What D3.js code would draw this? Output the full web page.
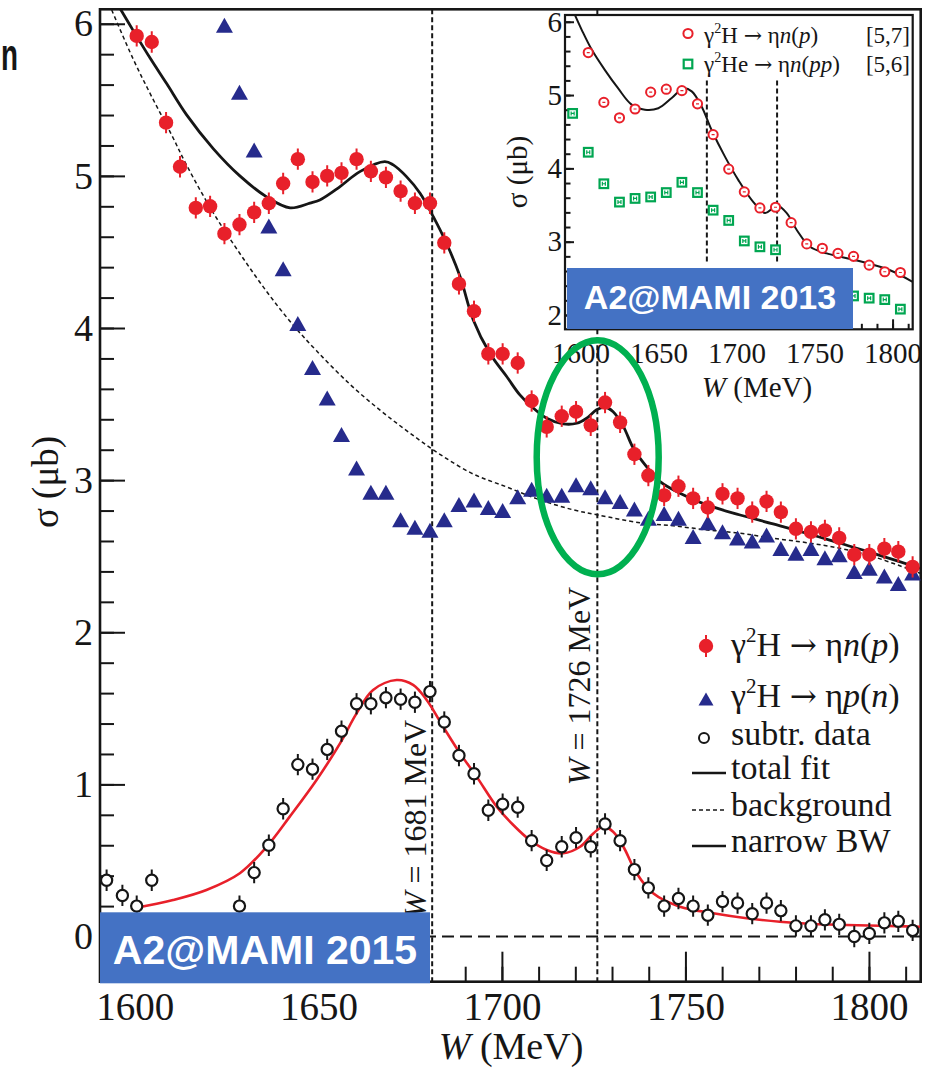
<!DOCTYPE html>
<html>
<head>
<meta charset="utf-8">
<script src="https://cdn.jsdelivr.net/npm/d3@7"></script>
<style>
  html, body { margin: 0; padding: 0; background: #fff; }
  svg { display: block; }
</style>
</head>
<body>
<svg id="chart" width="931" height="1070"></svg>
<script>
// ---------- γ²H → ηn(p), A2@MAMI 2015 (filled red circles) ----------
const npW = [1600.5,1604.6,1608.5,1612.3,1616.6,1620.5,1624.4,1628.5,1632.5,1636.5,1640.4,1644.4,1648.4,1652.4,1656.3,1660.4,1664.3,1668.4,1672.4,1676.3,1680.4,1684.3,1688.3,1692.4,1696.3,1700.2,1704.3,1708.1,1712.2,1716.3,1720.2,1724.2,1728.1,1732.2,1736.1,1739.9,1744.2,1748.1,1752.1,1756.1,1760.1,1764.2,1768.2,1772.1,1776.0,1780.1,1784.2,1788.0,1791.9,1796.0,1800.1,1804.2,1808.0,1811.9];
const npSigma = [5.92,5.88,5.35,5.06,4.79,4.80,4.62,4.68,4.76,4.82,4.95,5.11,4.96,5.00,5.02,5.11,5.03,4.99,4.90,4.82,4.82,4.56,4.29,4.11,3.83,3.83,3.77,3.52,3.35,3.42,3.45,3.36,3.51,3.38,3.17,3.03,2.90,2.96,2.88,2.82,2.91,2.88,2.79,2.86,2.79,2.68,2.66,2.67,2.62,2.51,2.51,2.55,2.53,2.43];
const npErr = 0.07;

// ---------- γ²H → ηp(n) (blue triangles) ----------
const pnW = [1624.4,1628.5,1632.5,1636.5,1640.4,1644.4,1648.4,1652.4,1656.3,1660.4,1664.3,1668.4,1672.4,1676.3,1680.4,1684.3,1688.3,1692.4,1696.3,1700.2,1704.3,1708.1,1712.2,1716.3,1720.2,1724.2,1728.1,1732.2,1736.1,1739.9,1744.2,1748.1,1752.1,1756.1,1760.1,1764.2,1768.2,1772.1,1776.0,1780.1,1784.2,1788.0,1791.9,1796.0,1800.1,1804.2,1808.0,1811.9];
const pnSigma = [5.99,5.55,5.17,4.67,4.39,4.03,3.74,3.54,3.30,3.08,2.92,2.92,2.74,2.69,2.67,2.74,2.84,2.87,2.82,2.80,2.89,2.94,2.90,2.90,2.97,2.95,2.89,2.86,2.81,2.75,2.78,2.75,2.63,2.72,2.66,2.62,2.60,2.64,2.55,2.52,2.55,2.49,2.51,2.40,2.42,2.37,2.32,2.39];

// ---------- background-subtracted ηn(p) data (open circles) ----------
const subW = [1592.3,1596.6,1600.5,1604.6,1628.5,1632.5,1636.5,1640.4,1644.4,1648.4,1652.4,1656.3,1660.4,1664.3,1668.4,1672.4,1676.3,1680.4,1684.3,1688.3,1692.4,1696.3,1700.2,1704.3,1708.1,1712.2,1716.3,1720.2,1724.2,1728.1,1732.2,1736.1,1739.9,1744.2,1748.1,1752.1,1756.1,1760.1,1764.2,1768.2,1772.1,1776.0,1780.1,1784.2,1788.0,1791.9,1796.0,1800.1,1804.2,1808.0,1811.9];
const subSigma = [0.37,0.27,0.20,0.37,0.20,0.42,0.60,0.84,1.13,1.10,1.23,1.35,1.53,1.53,1.57,1.56,1.54,1.61,1.41,1.19,1.07,0.83,0.87,0.85,0.63,0.50,0.59,0.65,0.59,0.74,0.63,0.44,0.32,0.20,0.25,0.20,0.14,0.23,0.22,0.15,0.22,0.17,0.07,0.07,0.11,0.08,0.00,0.02,0.09,0.10,0.04];
const subErr = 0.07;

// ---------- fitted curves ----------
const totalFitW = [1596.1,1599.6,1604.1,1608.7,1614.1,1621.4,1628.6,1635.9,1642.3,1647.7,1650.4,1655.9,1661.3,1668.1,1670.4,1674.0,1677.7,1681.3,1684.9,1688.6,1692.2,1696.7,1701.3,1704.9,1708.1,1712.2,1716.7,1720.4,1723.1,1725.8,1728.1,1730.3,1733.1,1735.8,1739.4,1743.1,1748.5,1755.8,1764.9,1773.9,1783.0,1792.1,1801.2,1813.9];
const totalFit = [6.095,5.953,5.776,5.605,5.401,5.178,5.000,4.862,4.790,4.821,4.842,4.930,5.028,5.094,5.072,4.995,4.886,4.732,4.557,4.338,4.053,3.834,3.681,3.560,3.483,3.407,3.370,3.374,3.407,3.462,3.479,3.450,3.352,3.210,3.089,2.990,2.914,2.837,2.771,2.712,2.651,2.585,2.519,2.421];

const backgroundW = [1593.7,1599.5,1604.6,1610.0,1614.1,1621.3,1628.6,1635.9,1643.1,1649.5,1658.6,1666.8,1674.9,1683.1,1692.2,1701.3,1710.4,1719.4,1726.2,1737.6,1746.7,1755.8,1764.9,1773.9,1783.0,1792.1,1801.2,1813.9];
const background = [6.09,5.77,5.52,5.27,5.07,4.76,4.49,4.24,4.02,3.85,3.63,3.46,3.31,3.17,3.04,2.955,2.87,2.805,2.771,2.72,2.70,2.673,2.651,2.618,2.589,2.552,2.497,2.388];

const narrowBWW = [1599.5,1610.4,1619.5,1628.6,1635.9,1642.2,1649.5,1655.9,1660.4,1664.9,1671.3,1675.8,1679.5,1684.0,1688.6,1693.1,1698.6,1703.1,1707.6,1712.2,1716.7,1721.3,1724.9,1727.6,1730.3,1733.1,1736.7,1741.2,1748.5,1757.6,1766.7,1775.7,1784.8,1793.9,1803.0,1813.9];
const narrowBW = [0.185,0.240,0.306,0.416,0.590,0.788,1.029,1.270,1.467,1.621,1.686,1.654,1.555,1.379,1.204,1.051,0.853,0.733,0.634,0.569,0.547,0.590,0.678,0.722,0.689,0.590,0.416,0.284,0.196,0.153,0.120,0.097,0.082,0.076,0.071,0.064];

const resonanceW = [1681, 1726];

// ---------- inset: A2@MAMI 2013 ----------
const insetNpW = [1605,1615,1625,1635,1645,1655,1665,1675,1685,1695,1705,1715,1725,1735,1745,1755,1765,1775,1785,1795,1805];
const insetNp = [5.58,4.90,4.69,4.81,5.04,5.08,5.06,4.88,4.46,3.99,3.68,3.46,3.47,3.26,2.97,2.91,2.84,2.80,2.68,2.59,2.58];
const insetHeW = [1595,1605,1615,1625,1635,1645,1655,1665,1675,1685,1695,1705,1715,1725,1775,1785,1795,1805];
const insetHe = [4.75,4.22,3.79,3.54,3.59,3.61,3.67,3.81,3.67,3.43,3.29,3.01,2.93,2.89,2.26,2.23,2.21,2.08];
const insetFitW = [1596.5,1600.8,1607.2,1615.7,1624.2,1632.8,1641.3,1649.9,1658.5,1665.9,1671.3,1677.7,1684.1,1692.6,1701.2,1710.8,1718.3,1722.8,1726.3,1732.2,1738.6,1747.1,1757.8,1777.9,1798.4,1812.9];
const insetFit = [6.09,5.89,5.62,5.34,5.09,4.87,4.80,4.82,4.96,5.09,5.05,4.84,4.52,4.16,3.84,3.54,3.39,3.45,3.49,3.39,3.16,2.93,2.84,2.74,2.61,2.45];

// ---------- axis ticks ----------
const xTickLabels = [1600, 1650, 1700, 1750, 1800];
const yTickLabels = [0, 1, 2, 3, 4, 5, 6];
const insetYTickLabels = [2, 3, 4, 5, 6];

const SERIF = "'Liberation Serif', 'Times New Roman', serif";
const SANS = "'Liberation Sans', Arial, sans-serif";
const ARROW_FONT = "'DejaVu Serif', 'DejaVu Sans', serif";
const INK = '#161616';
const RED = '#E8202A';
const NAVY = '#262B8C';
const GREEN = '#00A651';
const BLUE_BOX = '#4472C4';

const svg = d3.select('#chart');
const zip = (ws, vs) => ws.map((w, i) => ({ w, v: vs[i] }));

// ---------- main panel ----------
const x = d3.scaleLinear().domain([1590.5, 1814.1]).range([100, 920.7]);
const y = d3.scaleLinear().domain([-0.297, 6.095]).range([981.7, 9.3]);
const [X0, X1] = x.range();
const [Y0, Y1] = y.range();

svg.append('defs').append('clipPath').attr('id', 'mainClip')
  .append('rect').attr('x', X0).attr('y', Y1).attr('width', X1 - X0).attr('height', Y0 - Y1);
svg.select('defs').append('clipPath').attr('id', 'insetClip')
  .append('rect').attr('x', 565).attr('y', 15).attr('width', 347.7).attr('height', 314.3);

function styleAxis(g, fs) {
  g.attr('font-family', SERIF).attr('font-size', fs);
  g.selectAll('.domain').remove();
  g.selectAll('.tick line').attr('stroke', INK).attr('stroke-width', 2);
  g.selectAll('.tick text').attr('fill', INK);
}

// minor + major ticks on the bottom axis
svg.append('g').attr('transform', `translate(0,${Y0})`)
  .call(d3.axisBottom(x).tickValues(d3.range(1600, 1811, 10)).tickSize(-15).tickFormat(''))
  .call(g => styleAxis(g, 39));
svg.append('g').attr('transform', `translate(0,${Y0})`)
  .call(d3.axisBottom(x).tickValues(xTickLabels).tickSizeInner(-30).tickSizeOuter(0).tickPadding(11).tickFormat(d3.format('d')))
  .call(g => styleAxis(g, 39));
// minor + major ticks on the left axis
svg.append('g').attr('transform', `translate(${X0},0)`)
  .call(d3.axisLeft(y).tickValues(d3.range(0, 6.01, 0.2)).tickSize(-14).tickFormat(''))
  .call(g => styleAxis(g, 38));
svg.append('g').attr('transform', `translate(${X0},0)`)
  .call(d3.axisLeft(y).tickValues(yTickLabels).tickSizeInner(-25).tickSizeOuter(0).tickPadding(7).tickFormat(d3.format('d')))
  .call(g => styleAxis(g, 38));

// frame
svg.append('rect').attr('x', X0).attr('y', Y1).attr('width', X1 - X0).attr('height', Y0 - Y1)
  .attr('fill', 'none').attr('stroke', INK).attr('stroke-width', 2.6);

const plot = svg.append('g').attr('clip-path', 'url(#mainClip)');

// zero line
plot.append('line').attr('x1', X0).attr('x2', X1).attr('y1', y(0)).attr('y2', y(0))
  .attr('stroke', INK).attr('stroke-width', 2).attr('stroke-dasharray', '12,6');

// resonance markers
plot.selectAll('line.res').data(resonanceW).join('line').attr('class', 'res')
  .attr('x1', d => x(d)).attr('x2', d => x(d)).attr('y1', Y1).attr('y2', Y0)
  .attr('stroke', INK).attr('stroke-width', 2).attr('stroke-dasharray', '5,3');

const curve = (sx, sy) => d3.line().x(d => sx(d.w)).y(d => sy(d.v)).curve(d3.curveCatmullRom.alpha(0.5));

plot.append('path').datum(zip(backgroundW, background)).attr('d', curve(x, y))
  .attr('fill', 'none').attr('stroke', INK).attr('stroke-width', 1.5).attr('stroke-dasharray', '4,3');
plot.append('path').datum(zip(totalFitW, totalFit)).attr('d', curve(x, y))
  .attr('fill', 'none').attr('stroke', INK).attr('stroke-width', 2.8);
plot.append('path').datum(zip(narrowBWW, narrowBW)).attr('d', curve(x, y))
  .attr('fill', 'none').attr('stroke', RED).attr('stroke-width', 2.6);

// blue triangles
const triPath = (w, h) => `M0,${-h / 2}L${w / 2},${h / 2}L${-w / 2},${h / 2}Z`;
plot.selectAll('path.pn').data(zip(pnW, pnSigma)).join('path').attr('class', 'pn')
  .attr('transform', d => `translate(${x(d.w)},${y(d.v)})`)
  .attr('d', triPath(17, 15)).attr('fill', NAVY);

// red filled circles with error bars
const npPts = zip(npW, npSigma);
plot.selectAll('line.nperr').data(npPts).join('line').attr('class', 'nperr')
  .attr('x1', d => x(d.w)).attr('x2', d => x(d.w))
  .attr('y1', d => y(d.v + npErr)).attr('y2', d => y(d.v - npErr))
  .attr('stroke', RED).attr('stroke-width', 2);
plot.selectAll('circle.np').data(npPts).join('circle').attr('class', 'np')
  .attr('cx', d => x(d.w)).attr('cy', d => y(d.v)).attr('r', 7.2).attr('fill', RED);

// open circles (subtracted data)
const subPts = zip(subW, subSigma);
plot.selectAll('line.suberr').data(subPts).join('line').attr('class', 'suberr')
  .attr('x1', d => x(d.w)).attr('x2', d => x(d.w))
  .attr('y1', d => y(d.v + subErr)).attr('y2', d => y(d.v - subErr))
  .attr('stroke', INK).attr('stroke-width', 2);
plot.selectAll('circle.sub').data(subPts).join('circle').attr('class', 'sub')
  .attr('cx', d => x(d.w)).attr('cy', d => y(d.v)).attr('r', 5.6)
  .attr('fill', '#fff').attr('stroke', INK).attr('stroke-width', 2.2);

// rotated resonance labels
const resLabelPos = [{ w: 1681, cx: 426, cy: 819 }, { w: 1726, cx: 590, cy: 686 }];
resLabelPos.forEach(p => {
  const t = svg.append('text').attr('transform', `translate(${p.cx},${p.cy}) rotate(-90)`)
    .attr('text-anchor', 'middle').attr('font-family', SERIF).attr('font-size', 32).attr('fill', INK);
  t.append('tspan').attr('font-style', 'italic').text('W');
  t.append('tspan').text(` = ${p.w} MeV`);
});

// axis titles
const xt = svg.append('text').attr('x', 511).attr('y', 1059).attr('text-anchor', 'middle')
  .attr('font-family', SERIF).attr('font-size', 38).attr('fill', INK);
xt.append('tspan').attr('font-style', 'italic').text('W');
xt.append('tspan').text(' (MeV)');
svg.append('text').attr('transform', 'translate(58,482) rotate(-90)').attr('text-anchor', 'middle')
  .attr('font-family', SERIF).attr('font-size', 37).attr('fill', INK).text('σ  (μb)');

// reaction label: γ²X → η a(b)
function reaction(t, fs, target, meson, nucl, spect) {
  t.append('tspan').text('γ');
  t.append('tspan').attr('dy', -0.42 * fs).attr('font-size', fs * 0.62).text('2');
  t.append('tspan').attr('dy', 0.42 * fs).text(`${target} `);
  t.append('tspan').attr('font-family', ARROW_FONT).attr('font-size', fs * 0.95).text('→');
  t.append('tspan').text(` ${meson}`);
  t.append('tspan').attr('font-style', 'italic').text(nucl);
  t.append('tspan').text('(');
  t.append('tspan').attr('font-style', 'italic').text(spect);
  t.append('tspan').text(')');
}

// ---------- main legend ----------
const lg = svg.append('g').attr('font-family', SERIF).attr('font-size', 34).attr('fill', INK);
lg.append('line').attr('x1', 706).attr('x2', 706).attr('y1', 635).attr('y2', 657).attr('stroke', RED).attr('stroke-width', 2);
lg.append('circle').attr('cx', 706).attr('cy', 646).attr('r', 7.2).attr('fill', RED);
reaction(lg.append('text').attr('x', 731).attr('y', 656), 34, 'H', 'η', 'n', 'p');
lg.append('path').attr('transform', 'translate(706,699)').attr('d', triPath(15, 13)).attr('fill', NAVY);
reaction(lg.append('text').attr('x', 731).attr('y', 707), 34, 'H', 'η', 'p', 'n');
lg.append('circle').attr('cx', 704).attr('cy', 738).attr('r', 5).attr('fill', '#fff').attr('stroke', INK).attr('stroke-width', 2);
lg.append('text').attr('x', 731).attr('y', 745).text('subtr. data');
const legendLines = [
  { label: 'total fit', yy: 773, dash: null, w: 2.6 },
  { label: 'background', yy: 810, dash: '4,3', w: 1.6 },
  { label: 'narrow BW', yy: 846, dash: null, w: 2.6 }
];
legendLines.forEach(e => {
  lg.append('line').attr('x1', 692).attr('x2', 726).attr('y1', e.yy).attr('y2', e.yy)
    .attr('stroke', INK).attr('stroke-width', e.w).attr('stroke-dasharray', e.dash);
  lg.append('text').attr('x', 731).attr('y', e.yy + 5.5).text(e.label);
});

// ---------- inset panel ----------
const xi = d3.scaleLinear().domain([1590.1, 1812.9]).range([565, 912.7]);
const yi = d3.scaleLinear().domain([1.805, 6.092]).range([329.3, 15]);
const [XI0, XI1] = xi.range();
const [YI0, YI1] = yi.range();

svg.append('rect').attr('x', XI0).attr('y', YI1).attr('width', XI1 - XI0).attr('height', YI0 - YI1).attr('fill', '#fff');

svg.append('g').attr('transform', `translate(${XI0},0)`)
  .call(d3.axisLeft(yi).tickValues(d3.range(2, 6.01, 0.2)).tickSize(-5.5).tickFormat(''))
  .call(g => styleAxis(g, 29));
svg.append('g').attr('transform', `translate(${XI0},0)`)
  .call(d3.axisLeft(yi).tickValues(insetYTickLabels).tickSizeInner(-9).tickSizeOuter(0).tickPadding(3).tickFormat(d3.format('d')))
  .call(g => styleAxis(g, 29));
svg.append('g').attr('transform', `translate(0,${YI0})`)
  .call(d3.axisBottom(xi).tickValues(d3.range(1600, 1811, 10)).tickSize(-5.5).tickFormat(''))
  .call(g => styleAxis(g, 29));
svg.append('g').attr('transform', `translate(0,${YI0})`)
  .call(d3.axisBottom(xi).tickValues(xTickLabels).tickSizeInner(-10).tickSizeOuter(0).tickPadding(13).tickFormat(d3.format('d')))
  .call(g => styleAxis(g, 29));
svg.append('rect').attr('x', XI0).attr('y', YI1).attr('width', XI1 - XI0).attr('height', YI0 - YI1)
  .attr('fill', 'none').attr('stroke', INK).attr('stroke-width', 2.2);

const inset = svg.append('g').attr('clip-path', 'url(#insetClip)');
inset.selectAll('line.ires').data(resonanceW).join('line').attr('class', 'ires')
  .attr('x1', d => xi(d)).attr('x2', d => xi(d)).attr('y1', yi(5.2)).attr('y2', yi(2.72))
  .attr('stroke', INK).attr('stroke-width', 2).attr('stroke-dasharray', '5,3');
inset.append('path').datum(zip(insetFitW, insetFit)).attr('d', curve(xi, yi))
  .attr('fill', 'none').attr('stroke', INK).attr('stroke-width', 2);

const hePts = zip(insetHeW, insetHe);
inset.selectAll('rect.he').data(hePts).join('rect').attr('class', 'he')
  .attr('x', d => xi(d.w) - 4.3).attr('y', d => yi(d.v) - 4.3).attr('width', 8.6).attr('height', 8.6)
  .attr('fill', '#fff').attr('stroke', GREEN).attr('stroke-width', 2.2);
inset.selectAll('path.heerr').data(hePts).join('path').attr('class', 'heerr')
  .attr('d', d => { const cx = xi(d.w), cy = yi(d.v); return `M${cx - 1.5},${cy - 2}V${cy + 2}M${cx + 1.5},${cy - 2}V${cy + 2}M${cx - 1.5},${cy}H${cx + 1.5}`; })
  .attr('stroke', GREEN).attr('stroke-width', 1.2).attr('fill', 'none');

const inpPts = zip(insetNpW, insetNp);
inset.selectAll('circle.inp').data(inpPts).join('circle').attr('class', 'inp')
  .attr('cx', d => xi(d.w)).attr('cy', d => yi(d.v)).attr('r', 4.6)
  .attr('fill', '#fff').attr('stroke', RED).attr('stroke-width', 2);
inset.selectAll('line.inperr').data(inpPts).join('line').attr('class', 'inperr')
  .attr('x1', d => xi(d.w) - 1.5).attr('x2', d => xi(d.w) + 1.5).attr('y1', d => yi(d.v)).attr('y2', d => yi(d.v))
  .attr('stroke', RED).attr('stroke-width', 1.2);

// inset legend
const il = svg.append('g').attr('font-family', SERIF).attr('font-size', 23).attr('fill', INK);
il.append('circle').attr('cx', 688).attr('cy', 33.5).attr('r', 4.6).attr('fill', '#fff').attr('stroke', RED).attr('stroke-width', 2);
reaction(il.append('text').attr('x', 704).attr('y', 43), 23, 'H', 'η', 'n', 'p');
il.append('text').attr('x', 910).attr('y', 43).attr('text-anchor', 'end').text('[5,7]');
il.append('rect').attr('x', 683.7).attr('y', 59.7).attr('width', 8.6).attr('height', 8.6)
  .attr('fill', '#fff').attr('stroke', GREEN).attr('stroke-width', 2.2);
reaction(il.append('text').attr('x', 704).attr('y', 72), 23, 'He', 'η', 'n', 'pp');
il.append('text').attr('x', 910).attr('y', 72).attr('text-anchor', 'end').text('[5,6]');

// inset axis titles
const ixt = svg.append('text').attr('x', 757).attr('y', 397).attr('text-anchor', 'middle')
  .attr('font-family', SERIF).attr('font-size', 29).attr('fill', INK);
ixt.append('tspan').attr('font-style', 'italic').text('W');
ixt.append('tspan').text(' (MeV)');
svg.append('text').attr('transform', 'translate(527,172) rotate(-90)').attr('text-anchor', 'middle')
  .attr('font-family', SERIF).attr('font-size', 29).attr('fill', INK).text('σ  (μb)');

// ---------- experiment tags ----------
const tags = [
  { label: 'A2@MAMI 2013', x0: 567, y0: 268, w: 286, h: 61, fs: 34, base: 309 },
  { label: 'A2@MAMI 2015', x0: 100, y0: 912.3, w: 330, h: 71, fs: 41, base: 963.5 }
];
tags.forEach(t => {
  svg.append('rect').attr('x', t.x0).attr('y', t.y0).attr('width', t.w).attr('height', t.h).attr('fill', BLUE_BOX);
  svg.append('text').attr('x', t.x0 + t.w / 2).attr('y', t.base).attr('text-anchor', 'middle')
    .attr('font-family', SANS).attr('font-weight', 'bold').attr('font-size', t.fs).attr('fill', '#fff').text(t.label);
});

// highlight around the narrow structure at W = 1726 MeV
svg.append('ellipse').attr('cx', x(1726.1)).attr('cy', y(3.15)).attr('rx', 61).attr('ry', 117)
  .attr('fill', 'none').attr('stroke', '#00B050').attr('stroke-width', 6.5);

// fragment of the slide heading at the top-left edge
svg.append('text').attr('x', 1).attr('y', 70).attr('font-family', SANS).attr('font-weight', 'bold')
  .attr('font-size', 44).attr('textLength', 17).attr('lengthAdjust', 'spacingAndGlyphs')
  .attr('fill', INK).text('n');
</script>
</body>
</html>
